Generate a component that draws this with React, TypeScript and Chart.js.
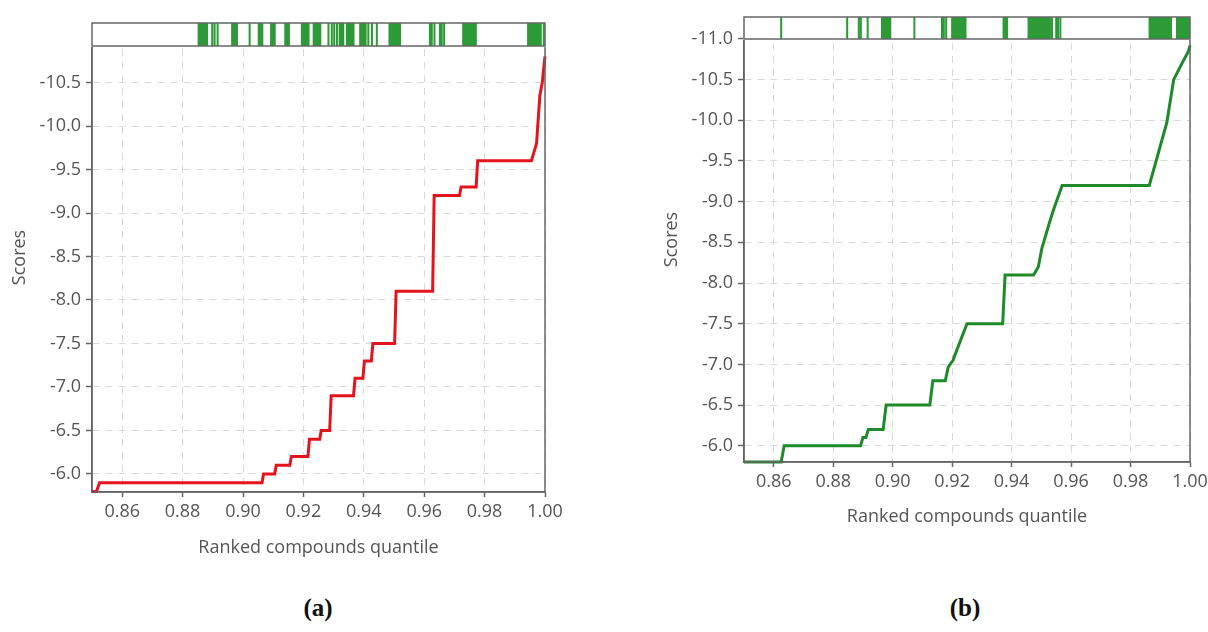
import React, { useEffect, useRef } from "react";
import { Chart, registerables } from "chart.js";

Chart.register(...registerables);

// ---------- data ----------
const quantileTicks = [0.86, 0.88, 0.9, 0.92, 0.94, 0.96, 0.98, 1.0];
const scoreTicksA = [-6.0, -6.5, -7.0, -7.5, -8.0, -8.5, -9.0, -9.5, -10.0, -10.5];
const scoreTicksB = [-6.0, -6.5, -7.0, -7.5, -8.0, -8.5, -9.0, -9.5, -10.0, -10.5, -11.0];

const curveAQuantile = [0.85, 0.8515, 0.8525, 0.9063, 0.9068, 0.9105, 0.911, 0.9155, 0.916, 0.9215, 0.922, 0.9254, 0.9259, 0.9287, 0.9292, 0.9366, 0.9371, 0.9397, 0.9402, 0.9425, 0.943, 0.9502, 0.9507, 0.9628, 0.9633, 0.9717, 0.9722, 0.9772, 0.9777, 0.9955, 0.9972, 0.9983, 0.9991, 1.0];
const curveAScore = [-5.8, -5.8, -5.9, -5.9, -6.0, -6.0, -6.1, -6.1, -6.2, -6.2, -6.4, -6.4, -6.5, -6.5, -6.9, -6.9, -7.1, -7.1, -7.3, -7.3, -7.5, -7.5, -8.1, -8.1, -9.2, -9.2, -9.3, -9.3, -9.6, -9.6, -9.8, -10.35, -10.5, -10.8];

const curveBQuantile = [0.85, 0.8625, 0.8635, 0.8892, 0.89, 0.891, 0.8918, 0.8968, 0.8978, 0.9125, 0.9135, 0.9177, 0.9187, 0.9203, 0.921, 0.9232, 0.925, 0.937, 0.9378, 0.9474, 0.949, 0.9502, 0.9528, 0.9541, 0.957, 0.9863, 0.9922, 0.9945, 0.9973, 0.9995, 1.0];
const curveBScore = [-5.8, -5.8, -6.0, -6.0, -6.1, -6.1, -6.2, -6.2, -6.5, -6.5, -6.8, -6.8, -6.97, -7.05, -7.12, -7.33, -7.5, -7.5, -8.1, -8.1, -8.2, -8.43, -8.75, -8.9, -9.2, -9.2, -9.97, -10.5, -10.7, -10.85, -10.92];

const rugAQuantile = [0.8853, 0.8859, 0.8865, 0.8871, 0.8877, 0.8881, 0.8898, 0.8906, 0.8916, 0.8964, 0.897, 0.8976, 0.898, 0.9022, 0.9052, 0.9058, 0.9064, 0.9093, 0.9099, 0.9105, 0.914, 0.9146, 0.9152, 0.9195, 0.9201, 0.9207, 0.9213, 0.9217, 0.9234, 0.924, 0.9246, 0.9252, 0.9256, 0.9283, 0.9294, 0.9302, 0.9311, 0.932, 0.9326, 0.9332, 0.9344, 0.935, 0.9356, 0.936, 0.9366, 0.9388, 0.9394, 0.94, 0.9406, 0.9415, 0.9427, 0.9443, 0.9485, 0.9491, 0.9497, 0.9503, 0.9509, 0.9515, 0.952, 0.9619, 0.9625, 0.9634, 0.9652, 0.9658, 0.9666, 0.9729, 0.9735, 0.9741, 0.9747, 0.9753, 0.9759, 0.9765, 0.9771, 0.9944, 0.995, 0.9956, 0.9962, 0.9968, 0.9974, 0.998, 0.9986, 0.9996];

const rugBQuantile = [0.8625, 0.8847, 0.8886, 0.8893, 0.8916, 0.8964, 0.897, 0.8976, 0.8982, 0.8988, 0.8992, 0.9073, 0.9166, 0.9172, 0.918, 0.92, 0.9206, 0.9212, 0.9218, 0.9224, 0.923, 0.9236, 0.9242, 0.9245, 0.9373, 0.9379, 0.9385, 0.9457, 0.9463, 0.9469, 0.9475, 0.9481, 0.9487, 0.9493, 0.9499, 0.9505, 0.9511, 0.9517, 0.9523, 0.9529, 0.9536, 0.955, 0.9556, 0.9564, 0.9864, 0.987, 0.9876, 0.9882, 0.9888, 0.9894, 0.99, 0.9906, 0.9912, 0.9918, 0.9924, 0.993, 0.9936, 0.9956, 0.9962, 0.9968, 0.9974, 0.998, 0.9986, 0.9992, 0.9998];

// ---------- styling ----------
const FONT = "'Open Sans', 'Noto Sans', sans-serif";
const TEXT = "#555";
const AXIS = "#666";

const framePlugin = {
  id: "frame",
  afterDraw(chart: any) {
    const { ctx, chartArea: a } = chart;
    ctx.save();
    ctx.strokeStyle = AXIS;
    ctx.lineWidth = 1.5;
    ctx.strokeRect(a.left, a.top, a.right - a.left, a.bottom - a.top);
    ctx.restore();
  },
};

interface PanelCfg {
  qs: number[];
  scores: number[];
  rug: number[];
  yTicks: number[];
  color: string;
  yMin: number;
  yMax: number;
  padTop: number;
  padRight: number;
  yW: number;
  xH: number;
  xTitlePad: number;
  yTitlePad: number;
}

function makeMain(canvas: HTMLCanvasElement, c: PanelCfg) {
  return new Chart(canvas, {
    type: "line",
    data: {
      datasets: [
        {
          data: c.qs.map((q, i) => ({ x: q, y: c.scores[i] })),
          borderColor: c.color,
          borderWidth: 3,
          pointRadius: 0,
          tension: 0,
          clip: false as any,
        },
      ],
    },
    options: {
      animation: false,
      responsive: false,
      devicePixelRatio: 1,
      layout: { padding: { top: c.padTop, right: c.padRight, left: 0, bottom: 0 } },
      plugins: { legend: { display: false }, tooltip: { enabled: false } },
      scales: {
        x: {
          type: "linear",
          min: 0.85,
          max: 1.0,
          afterBuildTicks: (s: any) => {
            s.ticks = quantileTicks.map((v) => ({ value: v }));
          },
          afterFit: (s: any) => {
            s.height = c.xH;
            s.paddingLeft = 0;
            s.paddingRight = 0;
          },
          ticks: {
            autoSkip: false,
            maxRotation: 0,
            color: TEXT,
            padding: 4,
            font: { family: FONT, size: 18 },
            callback: (v: any) => Number(v).toFixed(2),
          },
          grid: { color: "#d9d9d9", lineWidth: 1, tickLength: 5, tickColor: AXIS, tickWidth: 1.5 },
          border: { display: true, color: AXIS, width: 1.5, dash: [7, 6] },
          title: {
            display: true,
            text: "Ranked compounds quantile",
            color: TEXT,
            font: { family: FONT, size: 18 },
            padding: { top: 0, bottom: c.xTitlePad },
          },
        },
        y: {
          type: "linear",
          reverse: true,
          min: c.yMin,
          max: c.yMax,
          afterBuildTicks: (s: any) => {
            s.ticks = c.yTicks.map((v) => ({ value: v }));
          },
          afterFit: (s: any) => {
            s.width = c.yW;
            s.paddingTop = 0;
            s.paddingBottom = 0;
          },
          ticks: {
            autoSkip: false,
            color: TEXT,
            padding: 5,
            font: { family: FONT, size: 18 },
            callback: (v: any) => Number(v).toFixed(1),
          },
          grid: { color: "#d9d9d9", lineWidth: 1, tickLength: 6, tickColor: AXIS, tickWidth: 1.5 },
          border: { display: true, color: AXIS, width: 1.5, dash: [7, 6] },
          title: {
            display: true,
            text: "Scores",
            color: TEXT,
            font: { family: FONT, size: 18 },
            padding: { top: c.yTitlePad, bottom: 0 },
          },
        },
      },
    },
    plugins: [framePlugin],
  } as any);
}

function makeRug(canvas: HTMLCanvasElement, rug: number[]) {
  const pts: any[] = [];
  rug.forEach((q) => {
    pts.push({ x: q, y: 0 }, { x: q, y: 1 }, { x: q, y: null });
  });
  return new Chart(canvas, {
    type: "line",
    data: {
      datasets: [
        {
          data: pts,
          borderColor: "#2c9a36",
          borderWidth: 2,
          pointRadius: 0,
          spanGaps: false,
        },
      ],
    },
    options: {
      animation: false,
      responsive: false,
      devicePixelRatio: 1,
      layout: { padding: 1 },
      plugins: { legend: { display: false }, tooltip: { enabled: false } },
      scales: {
        x: { type: "linear", min: 0.85, max: 1.0, display: false },
        y: { type: "linear", min: 0, max: 1, display: false },
      },
    },
    plugins: [framePlugin],
  } as any);
}

function Panel(props: {
  cfg: PanelCfg;
  main: { left: number; top: number; w: number; h: number };
  rugBox: { left: number; top: number; w: number; h: number };
}) {
  const mainRef = useRef<HTMLCanvasElement>(null);
  const rugRef = useRef<HTMLCanvasElement>(null);
  useEffect(() => {
    const m = makeMain(mainRef.current!, props.cfg);
    const r = makeRug(rugRef.current!, props.cfg.rug);
    return () => {
      m.destroy();
      r.destroy();
    };
  }, []);
  const { main, rugBox } = props;
  return (
    <>
      <canvas
        ref={mainRef}
        width={main.w}
        height={main.h}
        style={{ position: "absolute", left: main.left, top: main.top, width: main.w, height: main.h }}
      />
      <canvas
        ref={rugRef}
        width={rugBox.w}
        height={rugBox.h}
        style={{
          position: "absolute",
          left: rugBox.left,
          top: rugBox.top,
          width: rugBox.w,
          height: rugBox.h,
          background: "#fff",
        }}
      />
    </>
  );
}

const cfgA: PanelCfg = {
  qs: curveAQuantile,
  scores: curveAScore,
  rug: rugAQuantile,
  yTicks: scoreTicksA,
  color: "#e3141c",
  yMin: -11.184,
  yMax: -5.793,
  padTop: 23,
  padRight: 55,
  yW: 92,
  xH: 88,
  xTitlePad: 21,
  yTitlePad: 9,
};

const cfgB: PanelCfg = {
  qs: curveBQuantile,
  scores: curveBScore,
  rug: rugBQuantile,
  yTicks: scoreTicksB,
  color: "#1f8a2a",
  yMin: -11.27,
  yMax: -5.8,
  padTop: 17,
  padRight: 18,
  yW: 94,
  xH: 98,
  xTitlePad: 32,
  yTitlePad: 11,
};

const captionStyle: React.CSSProperties = {
  position: "absolute",
  top: 594,
  width: 100,
  textAlign: "center",
  fontFamily: "'Liberation Serif', 'Times New Roman', serif",
  fontWeight: "bold",
  fontSize: 25,
  lineHeight: "28px",
  color: "#111",
};

export default function App() {
  return (
    <div
      style={{
        position: "absolute",
        left: 0,
        top: 0,
        width: 1208,
        height: 632,
        background: "#fff",
        overflow: "hidden",
      }}
    >
      <Panel
        cfg={cfgA}
        main={{ left: 0, top: 0, w: 600, h: 580 }}
        rugBox={{ left: 91, top: 22, w: 455, h: 25 }}
      />
      <Panel
        cfg={cfgB}
        main={{ left: 650, top: 0, w: 558, h: 560 }}
        rugBox={{ left: 743, top: 16, w: 448, h: 24 }}
      />
      <div style={{ ...captionStyle, left: 268 }}>(a)</div>
      <div style={{ ...captionStyle, left: 915 }}>(b)</div>
    </div>
  );
}
